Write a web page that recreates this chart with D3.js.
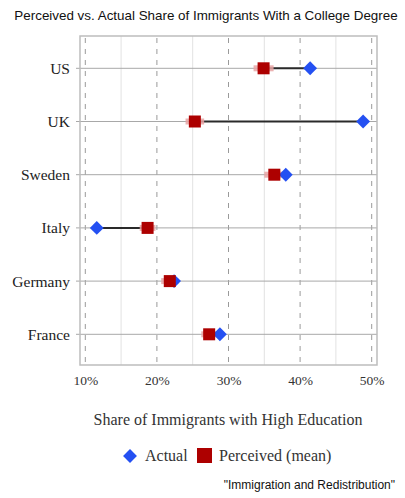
<!DOCTYPE html>
<html><head><meta charset="utf-8">
<script src="https://cdn.jsdelivr.net/npm/d3@7"></script>
<style>
html,body{margin:0;padding:0;background:#fff;}
svg{display:block;}
</style></head>
<body>
<script>
const countries = ["US","UK","Sweden","Italy","Germany","France"];
const actual    = [41.4, 48.8, 38.0, 11.6, 22.4, 28.8];
const perceived = [34.9, 25.3, 36.4, 18.7, 21.8, 27.3];
const ciLow     = [33.5, 24.0, 35.0, 17.6, 20.6, 26.2];
const ciHigh    = [36.3, 26.6, 37.8, 19.8, 23.0, 28.4];
const xTicks    = [10, 20, 30, 40, 50];
const xMinor    = [15, 25, 35, 45];
const title = "Perceived vs. Actual Share of Immigrants With a College Degree";
const xTitle = "Share of Immigrants with High Education";
const legendLabels = ["Actual", "Perceived (mean)"];
const source = "\"Immigration and Redistribution\"";

const W = 405, H = 498;
const frame = {l: 80, r: 377, t: 36, b: 365};
const serif = "'Liberation Serif','DejaVu Serif',serif";
const sans = "'Liberation Sans',Arial,Helvetica,sans-serif";
const blue = "#2450f2", red = "#ad0000";

const svg = d3.select("body").append("svg").attr("width", W).attr("height", H);

const x = d3.scaleLinear().domain([9.26, 50.74]).range([frame.l, frame.r]);
const y = d3.scalePoint().domain(countries).range([68.3, 334.3]);

// title
svg.append("text").attr("x", 206).attr("y", 20).attr("text-anchor", "middle")
  .attr("font-family", sans).attr("font-size", 13.4).attr("fill", "#111").text(title);

const g = svg.append("g");

// minor solid gridlines
g.selectAll("line.minor").data(xMinor).join("line")
  .attr("x1", d => x(d)).attr("x2", d => x(d))
  .attr("y1", frame.t).attr("y2", frame.b)
  .attr("stroke", "#e2e2e2").attr("stroke-width", 1);

// major dashed lines
g.selectAll("line.major").data(xTicks).join("line")
  .attr("x1", d => x(d)).attr("x2", d => x(d))
  .attr("y1", frame.t + 2).attr("y2", frame.b)
  .attr("stroke", "#9a9a9a").attr("stroke-width", 1)
  .attr("stroke-dasharray", "5,6");

// row lines (extending as ticks to the left)
g.selectAll("line.row").data(countries).join("line")
  .attr("x1", frame.l - 4).attr("x2", frame.r)
  .attr("y1", d => y(d)).attr("y2", d => y(d))
  .attr("stroke", "#a8a8a8").attr("stroke-width", 1);

// frame
g.append("rect").attr("x", frame.l).attr("y", frame.t)
  .attr("width", frame.r - frame.l).attr("height", frame.b - frame.t)
  .attr("fill", "none").attr("stroke", "#bdbdbd").attr("stroke-width", 1.5);

// x axis tick labels
const xAxis = d3.axisBottom(x).tickValues(xTicks).tickFormat(d => d + "%").tickSize(0).tickPadding(10);
const ax = svg.append("g").attr("transform", `translate(0,${frame.b})`).call(xAxis);
ax.select(".domain").remove();
ax.selectAll("text").attr("font-family", serif).attr("font-size", 13.5).attr("fill", "#333");

// y axis labels
const yAxis = d3.axisLeft(y).tickSize(0).tickPadding(10);
const ay = svg.append("g").attr("transform", `translate(${frame.l},0)`).call(yAxis);
ay.select(".domain").remove();
ay.selectAll("text").attr("font-family", serif).attr("font-size", 15.5).attr("fill", "#222");

const data = countries.map((c, i) => ({c, a: actual[i], p: perceived[i], lo: ciLow[i], hi: ciHigh[i]}));

// connectors
g.selectAll("line.conn").data(data).join("line")
  .attr("x1", d => x(d.p)).attr("x2", d => x(d.a))
  .attr("y1", d => y(d.c)).attr("y2", d => y(d.c))
  .attr("stroke", "#2a2a2a").attr("stroke-width", 2);

// CI bars
g.selectAll("rect.ci").data(data).join("rect")
  .attr("x", d => x(d.lo)).attr("width", d => x(d.hi) - x(d.lo))
  .attr("y", d => y(d.c) - 3).attr("height", 6)
  .attr("fill", "#e8a4a4").attr("opacity", 0.85);

// diamonds
const diamond = d3.symbol().type(d3.symbolSquare).size(96);
g.selectAll("path.act").data(data).join("path")
  .attr("d", diamond)
  .attr("transform", d => `translate(${x(d.a)},${y(d.c)}) rotate(45)`)
  .attr("fill", blue);

// squares
g.selectAll("rect.per").data(data).join("rect")
  .attr("x", d => x(d.p) - 6).attr("y", d => y(d.c) - 6)
  .attr("width", 12).attr("height", 12).attr("fill", red);

// x title
svg.append("text").attr("x", 228).attr("y", 425).attr("text-anchor", "middle")
  .attr("font-family", serif).attr("font-size", 16).attr("fill", "#333").text(xTitle);

// legend
const lg = svg.append("g");
lg.append("path").attr("d", diamond).attr("transform", "translate(130,456) rotate(45)").attr("fill", blue);
lg.append("text").attr("x", 145).attr("y", 461).attr("font-family", serif).attr("font-size", 16)
  .attr("fill", "#333").text(legendLabels[0]);
lg.append("rect").attr("x", 197).attr("y", 448).attr("width", 15).attr("height", 15).attr("fill", red);
lg.append("text").attr("x", 219).attr("y", 461).attr("font-family", serif).attr("font-size", 16)
  .attr("fill", "#333").text(legendLabels[1]);

// source
svg.append("text").attr("x", 395).attr("y", 489).attr("text-anchor", "end")
  .attr("font-family", sans).attr("font-size", 12).attr("fill", "#111").text(source);
</script>
</body></html>
